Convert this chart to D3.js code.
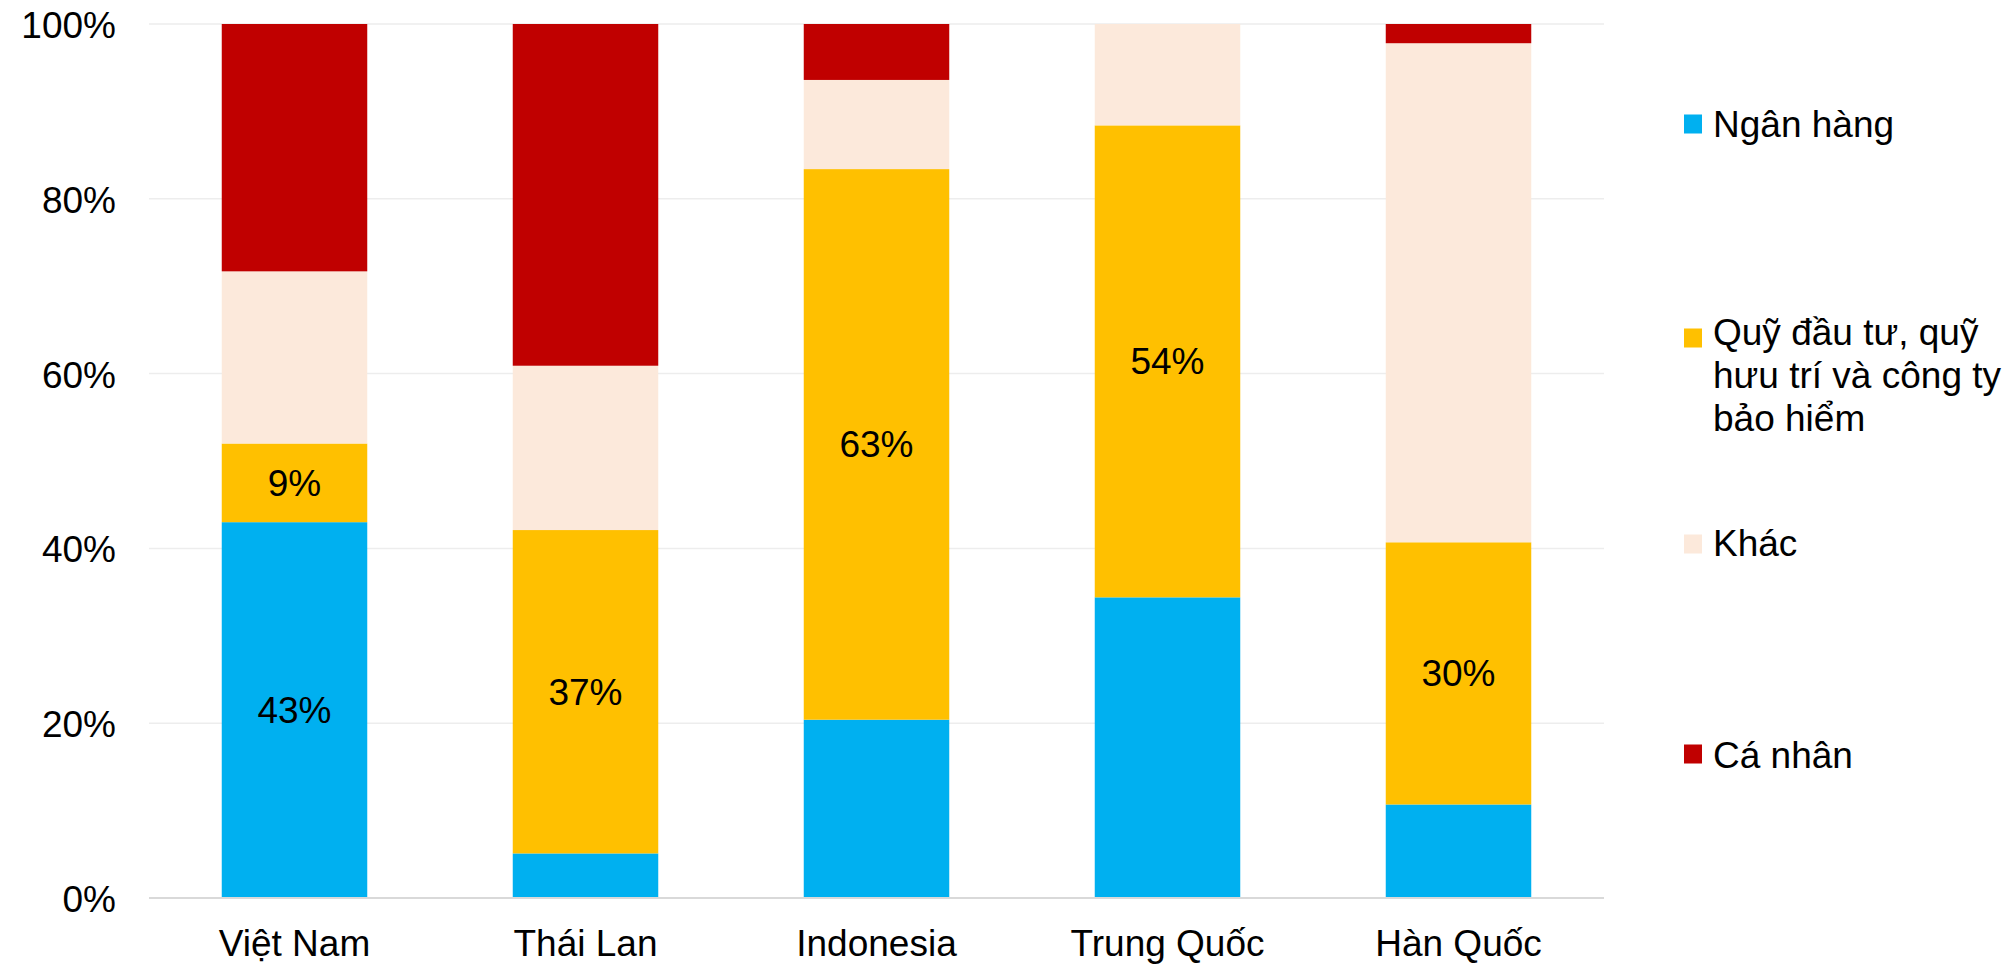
<!DOCTYPE html>
<html lang="vi">
<head>
<meta charset="utf-8">
<script src="https://cdn.jsdelivr.net/npm/d3@7"></script>
<style>
  html, body { margin: 0; padding: 0; background: #ffffff; }
  svg { display: block; }
  text { font-family: "Liberation Sans", Arial, Helvetica, sans-serif; fill: #000; }
</style>
</head>
<body>
<svg id="chart" width="2005" height="966"></svg>
<script>
// Countries on the x axis
const countries = ["Việt Nam", "Thái Lan", "Indonesia", "Trung Quốc", "Hàn Quốc"];

// Share of holdings by investor type (%), bottom to top of each stack
const banks       = [43, 5.1, 20.4, 34.4, 10.7];
const funds       = [9, 37, 63, 54, 30];
const others      = [19.7, 18.8, 10.2, 11.6, 57.1];
const individuals = [28.3, 39.1, 6.4, 0, 2.2];

// Series names (legend lines) and which segments carry a value label
const seriesKeys   = ["bank", "fund", "other", "individual"];
const seriesLines  = [["Ngân hàng"], ["Quỹ đầu tư, quỹ", "hưu trí và công ty", "bảo hiểm"], ["Khác"], ["Cá nhân"]];
const bankLabels   = [true, false, false, false, false];
const fundLabels   = [true, true, true, true, true];

// Y axis tick values (%)
const yTicks = [0, 20, 40, 60, 80, 100];

const colors = { bank: "#00B0F0", fund: "#FFC000", other: "#FCE9DB", individual: "#C00000" };

const rows = countries.map((c, i) => ({
  country: c,
  bank: banks[i],
  fund: funds[i],
  other: others[i],
  individual: individuals[i]
}));

const svg = d3.select("#chart");
const plotLeft = 149, plotRight = 1604, plotTop = 24, plotBottom = 898;
const fontSize = 37;

const x = d3.scaleBand().domain(countries).range([plotLeft, plotRight]).paddingInner(0.5).paddingOuter(0.25);
const y = d3.scaleLinear().domain([0, 100]).range([plotBottom, plotTop]);

// Horizontal gridlines
svg.append("g").selectAll("line")
  .data(yTicks.filter(t => t > 0))
  .join("line")
  .attr("x1", plotLeft).attr("x2", plotRight)
  .attr("y1", d => y(d)).attr("y2", d => y(d))
  .attr("stroke", "#EDEDED").attr("stroke-width", 1.5);

// Stacked bars
const stacked = d3.stack().keys(seriesKeys)(rows);
const layers = svg.append("g").selectAll("g")
  .data(stacked)
  .join("g")
  .attr("fill", d => colors[d.key]);

layers.selectAll("rect")
  .data(d => d)
  .join("rect")
  .attr("x", d => x(d.data.country))
  .attr("width", x.bandwidth())
  .attr("y", d => y(d[1]))
  .attr("height", d => Math.max(0, y(d[0]) - y(d[1])));

// Value labels inside selected segments
const labelFlags = { bank: bankLabels, fund: fundLabels };
const fmt = d3.format(".0f");
stacked.forEach(layer => {
  const flags = labelFlags[layer.key];
  if (!flags) return;
  svg.append("g").selectAll("text")
    .data(layer.filter((d, i) => flags[i]))
    .join("text")
    .attr("x", d => x(d.data.country) + x.bandwidth() / 2)
    .attr("y", d => (y(d[0]) + y(d[1])) / 2 + 13)
    .attr("text-anchor", "middle")
    .attr("font-size", fontSize)
    .text(d => fmt(d.data[layer.key]) + "%");
});

// Baseline (x axis line)
svg.append("line")
  .attr("x1", plotLeft).attr("x2", plotRight)
  .attr("y1", y(0)).attr("y2", y(0))
  .attr("stroke", "#D9D9D9").attr("stroke-width", 2);

// Y axis
const yAxis = d3.axisLeft(y).tickValues(yTicks).tickSize(0).tickPadding(0).tickFormat(d => d + "%");
const yg = svg.append("g").attr("transform", "translate(116,0)").call(yAxis);
yg.select(".domain").remove();
yg.selectAll("text")
  .attr("font-size", fontSize)
  .attr("font-family", "\"Liberation Sans\", Arial, sans-serif")
  .attr("fill", "#000")
  .attr("dy", null)
  .attr("y", 13.5);

// X axis
const xAxis = d3.axisBottom(x).tickSize(0).tickPadding(0);
const xg = svg.append("g").attr("transform", `translate(0,${plotBottom})`).call(xAxis);
xg.select(".domain").remove();
xg.selectAll("text")
  .attr("font-size", fontSize)
  .attr("font-family", "\"Liberation Sans\", Arial, sans-serif")
  .attr("fill", "#000")
  .attr("dy", null)
  .attr("y", 58);

// Legend
const legendSquareY = [124, 338, 544, 754];
const legendBaseY   = [137, 345, 556, 768];
const lineHeight = 43;
const legend = svg.append("g");
seriesKeys.forEach((k, i) => {
  legend.append("rect")
    .attr("x", 1684).attr("y", legendSquareY[i] - 9.5)
    .attr("width", 18).attr("height", 19)
    .attr("fill", colors[k]);
  const t = legend.append("text")
    .attr("x", 1713).attr("y", legendBaseY[i])
    .attr("font-size", fontSize);
  seriesLines[i].forEach((line, j) => {
    t.append("tspan")
      .attr("x", 1713)
      .attr("y", legendBaseY[i] + j * lineHeight)
      .text(line);
  });
});
</script>
</body>
</html>
